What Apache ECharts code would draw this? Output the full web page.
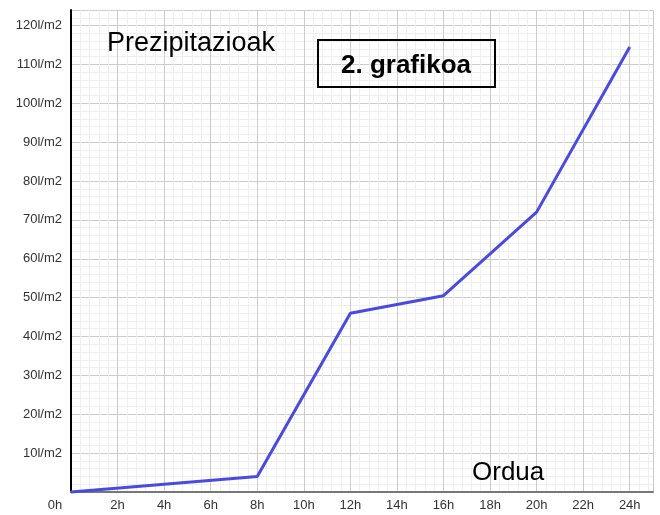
<!DOCTYPE html>
<html>
<head>
<meta charset="utf-8">
<script src="https://cdn.jsdelivr.net/npm/echarts@6/dist/echarts.min.js"></script>
<style>
  html, body { margin: 0; padding: 0; background: #fff; }
  #box { width: 660px; height: 515px; }
</style>
</head>
<body>
<div id="box"></div>
<script>
// orduak (x) eta prezipitazioak (y)
const hours = [0, 8, 12, 16, 20, 24];
const precip = [0, 4, 46, 50.5, 72, 114.5];

const xTicks = [0, 2, 4, 6, 8, 10, 12, 14, 16, 18, 20, 22, 24];
const yTicks = [10, 20, 30, 40, 50, 60, 70, 80, 90, 100, 110, 120];

const font = 'Liberation Sans';

let chart = echarts.init(document.getElementById('box'));

let option = {
    backgroundColor: '#fff',
    animation: false,
    grid: { left: 71, right: 7, top: 10, bottom: 23 },
    xAxis: {
        type: 'value',
        min: 0,
        max: 25,
        interval: 2,
        axisLine: { show: true, onZero: false, lineStyle: { color: '#777', width: 2 } },
        axisTick: { show: false },
        axisLabel: {
            margin: 7,
            color: '#333',
            fontSize: 13,
            fontFamily: font,
            formatter: function (v) {
                if (!xTicks.includes(v)) return '';
                if (v === 0) return '{z|0h}';
                return v + 'h';
            },
            rich: {
                z: { fontSize: 13, fontFamily: font, color: '#333', padding: [0, 32, 0, 0] }
            }
        },
        splitLine: { show: true, lineStyle: { color: '#ccc', width: 1 } },
        minorTick: { show: false, splitNumber: 5 },
        minorSplitLine: { show: true, lineStyle: { color: '#efefef', width: 1 } }
    },
    yAxis: {
        type: 'value',
        min: 0,
        max: 124,
        interval: 10,
        axisLine: { show: true, onZero: false, lineStyle: { color: '#000', width: 2 } },
        axisTick: { show: false },
        axisLabel: {
            margin: 9,
            color: '#333',
            fontSize: 13,
            fontFamily: font,
            formatter: function (v) {
                return yTicks.includes(v) ? v + 'l/m2' : '';
            }
        },
        splitLine: { show: true, lineStyle: { color: '#ccc', width: 1 } },
        minorTick: { show: false, splitNumber: 5 },
        minorSplitLine: { show: true, lineStyle: { color: '#efefef', width: 1 } }
    },
    graphic: [
        {
            type: 'text', left: 107, top: 30, z: 11,
            style: { text: 'Prezipitazioak', fill: '#000', stroke: 'none', lineWidth: 0,
                     fontSize: 27, fontFamily: font }
        },
        {
            type: 'rect', shape: { x: 318, y: 40, width: 177, height: 47 }, z: 10,
            style: { fill: 'none', stroke: '#000', lineWidth: 2 }
        },
        {
            type: 'text', x: 406, y: 66, z: 11,
            style: { text: '2. grafikoa', fill: '#000', stroke: 'none', lineWidth: 0,
                     fontSize: 26, fontWeight: 'bold', fontFamily: font,
                     align: 'center', verticalAlign: 'middle' }
        },
        {
            type: 'text', left: 472, top: 460, z: 11,
            style: { text: 'Ordua', fill: '#000', stroke: 'none', lineWidth: 0,
                     fontSize: 26, fontFamily: font }
        }
    ],
    series: [
        {
            type: 'line',
            data: hours.map(function (h, i) { return [h, precip[i]]; }),
            showSymbol: false,
            lineStyle: { color: '#4a4ae0', width: 3 },
            clip: false
        }
    ]
};
chart.setOption(option);
</script>
</body>
</html>
